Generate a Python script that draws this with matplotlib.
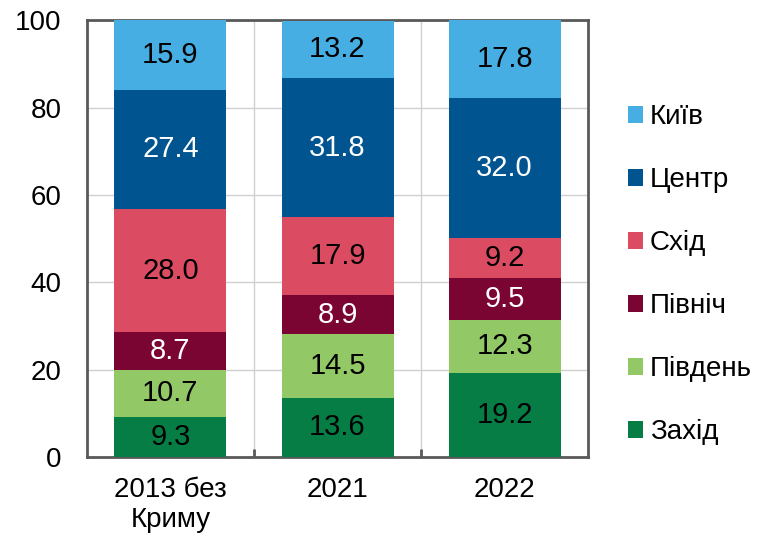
import matplotlib.pyplot as plt
import numpy as np
from matplotlib.patches import Patch

plt.rcParams["font.family"] = ["Liberation Sans", "DejaVu Sans"]

CATEGORIES = ["2013 без\nКриму", "2021", "2022"]
# bottom to top
SERIES = ["Захід", "Південь", "Північ", "Схід", "Центр", "Київ"]
ZAHID = [9.3, 13.6, 19.2]
PIVDEN = [10.7, 14.5, 12.3]
PIVNICH = [8.7, 8.9, 9.5]
SKHID = [28.0, 17.9, 9.2]
TSENTR = [27.4, 31.8, 32.0]
KYIV = [15.9, 13.2, 17.8]

COLORS = ["#077D46", "#92C865", "#7B0532", "#DB4B62", "#00548F", "#47AEE3"]
TEXT_COLORS = ["black", "black", "white", "black", "white", "black"]

values = [ZAHID, PIVDEN, PIVNICH, SKHID, TSENTR, KYIV]

fig = plt.figure(figsize=(7.61, 5.43), dpi=100)
ax = fig.add_axes([0.114, 0.158, 0.659, 0.805])

x = np.arange(len(CATEGORIES))
bottom = np.zeros(len(CATEGORIES))
for name, vals, color, tcol in zip(SERIES, values, COLORS, TEXT_COLORS):
    vals = np.array(vals)
    ax.bar(x, vals, bottom=bottom, width=0.67, color=color, zorder=3)
    for xi, b, v in zip(x, bottom, vals):
        ax.text(xi, b + v / 2, f"{v:.1f}", ha="center", va="center",
                fontsize=21, color=tcol, zorder=4)
    bottom += vals

ax.set_xlim(-0.5, 2.5)
ax.set_ylim(0, 100)
ax.set_yticks([0, 20, 40, 60, 80, 100])
ax.set_xticks(x)
ax.set_xticklabels(CATEGORIES)
ax.set_xticks([0.5, 1.5], minor=True)
ax.tick_params(axis="both", labelsize=20, length=0)
ax.tick_params(axis="y", pad=18)
ax.tick_params(axis="x", pad=14)
ax.tick_params(axis="x", which="minor", direction="in", length=6, width=2, color="#595959")
ax.grid(axis="y", color="#D0D0D0", linewidth=1, zorder=0)
ax.grid(axis="x", which="minor", color="#D0D0D0", linewidth=1, zorder=0)
for sp in ax.spines.values():
    sp.set_color("#595959")
    sp.set_linewidth(2)

handles = [Patch(facecolor=c, label=s) for s, c in zip(SERIES, COLORS)][::-1]
fig.legend(handles=handles, loc="center left", bbox_to_anchor=(0.825, 0.494),
           frameon=False, fontsize=20, handlelength=0.55, handleheight=0.55,
           handletextpad=0.25, labelspacing=1.33, borderpad=0, borderaxespad=0)

fig.savefig("out.png", dpi=100)
